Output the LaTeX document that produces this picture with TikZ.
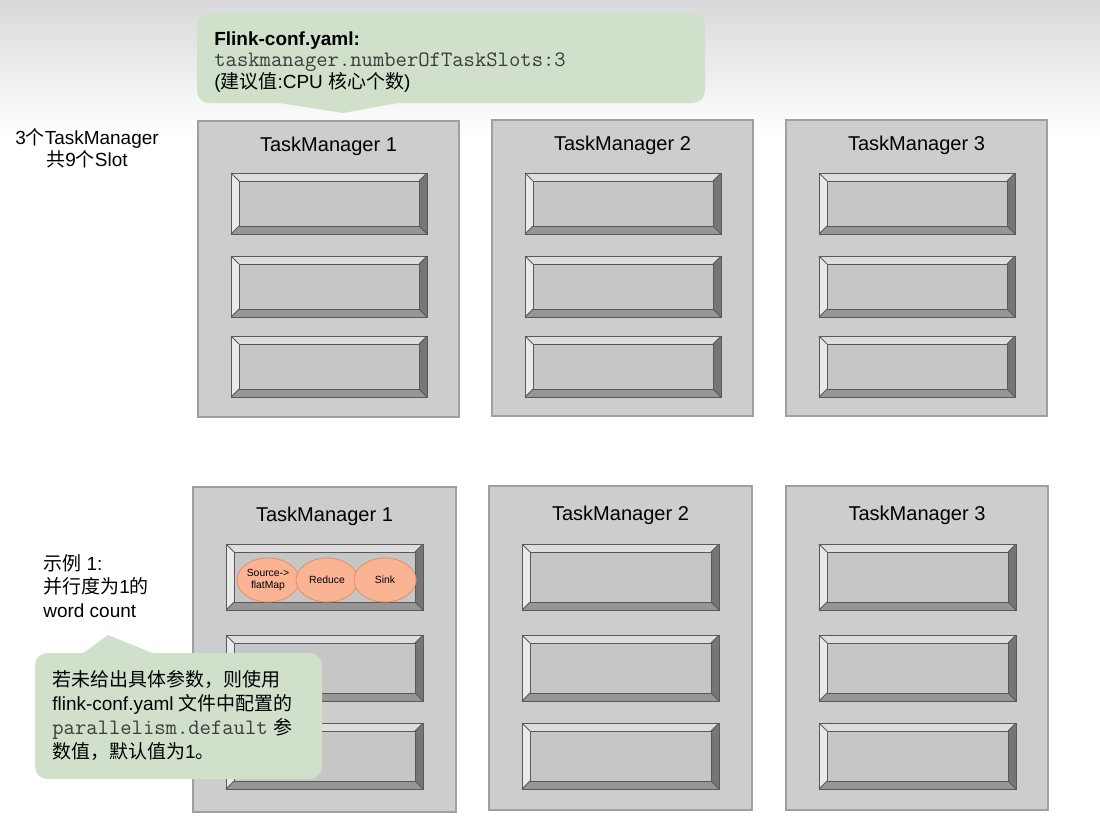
\documentclass[tikz,border=0pt]{standalone}
\usepackage{fontspec}
\setmainfont{Liberation Sans}
\setmonofont[Scale=1.16]{Latin Modern Mono}
\newfontfamily\cjk{Noto Sans CJK SC}
\usepackage{tikz}
\usetikzlibrary{shapes.geometric}

\definecolor{tmfill}{RGB}{205,205,205}
\definecolor{tmline}{RGB}{160,160,160}
\definecolor{facefill}{RGB}{198,198,198}
\definecolor{bevtopc}{RGB}{222,222,222}
\definecolor{bevleftc}{RGB}{234,234,234}
\definecolor{bevrightc}{RGB}{118,118,118}
\definecolor{bevbotc}{RGB}{150,150,150}
\definecolor{callgreen}{RGB}{208,224,203}
\definecolor{opfill}{RGB}{250,180,148}
\definecolor{opline}{RGB}{228,145,105}
\definecolor{codegray}{RGB}{60,60,60}

% one bevelled slot: x0, y0, x1, y1 (pixels)
\newcommand{\slotbox}[4]{%
	\fill[facefill] (#1,#2) rectangle (#3,#4);
	\fill[bevtopc] (#1,#2) -- (#3,#2) -- (#3-8,#2+8) -- (#1+8,#2+8) -- cycle;
	\fill[bevleftc] (#1,#2) -- (#1+8,#2+8) -- (#1+8,#4-8) -- (#1,#4) -- cycle;
	\fill[bevrightc] (#3,#2) -- (#3,#4) -- (#3-8,#4-8) -- (#3-8,#2+8) -- cycle;
	\fill[bevbotc] (#1,#4) -- (#3,#4) -- (#3-8,#4-8) -- (#1+8,#4-8) -- cycle;
	\draw[slotline] (#1,#2) rectangle (#3,#4);
	\draw[slotline] (#1+8,#2+8) rectangle (#3-8,#4-8);
	\draw[slotline] (#1,#2) -- (#1+8,#2+8) (#3,#2) -- (#3-8,#2+8)
		(#1,#4) -- (#1+8,#4-8) (#3,#4) -- (#3-8,#4-8);
}

\begin{document}
\begin{tikzpicture}[x=0.02cm,y=-0.02cm]
						\tikzstyle{every node}=[inner sep=0pt];
						\tikzstyle{tmbox}=[fill=tmfill,draw=tmline,line width=0.6pt];
						\tikzstyle{slotline}=[draw=black!65,line width=0.5pt];
						\tikzstyle{title}=[font=\fontsize{11.4}{13}\selectfont];
						\tikzstyle{note}=[font=\fontsize{10.8}{13.4}\selectfont,align=left];
						\tikzstyle{op}=[ellipse,fill=opfill,draw=opline,line width=0.5pt,minimum width=1.24cm,minimum height=0.88cm,align=center,font=\fontsize{5.9}{6.6}\selectfont];
						\useasboundingbox (0,0) rectangle (1100,822);
						\fill[white] (0,0) rectangle (1100,822);
						\shade[top color=black!15,bottom color=white] (0,0) rectangle (1100,135);
						% top callout
						\fill[callgreen,rounded corners=7pt] (197,13) rectangle (705,103);
						\fill[callgreen] (273,102) -- (403,102) -- (343,113) -- cycle;
						\path (214,31) node[anchor=north west,note,font=\fontsize{10.8}{12.3}\selectfont] (conf) {\textbf{Flink-conf.yaml:}\\\textcolor{codegray}{\texttt{taskmanager.numberOfTaskSlots:3}}\\({\cjk 建议值}:CPU {\cjk 核心个数})};
						\path (87,148) node[align=center,font=\fontsize{10.8}{12.5}\selectfont] (sum) {3{\cjk 个}TaskManager\\{\cjk 共}9{\cjk 个}Slot};
						% upper TaskManagers
						\draw[tmbox] (198,121) rectangle (459,417);
						\draw[tmbox] (492,120) rectangle (753,416);
						\draw[tmbox] (786,120) rectangle (1047,416);
						\path (328.5,146) node[title] (ta1) {TaskManager 1};
						\path (622.5,145) node[title] (ta2) {TaskManager 2};
						\path (916.5,145) node[title] (ta3) {TaskManager 3};
						\foreach \x in {231,525,819}
							\foreach \y in {173,256,336}
								\slotbox{\x}{\y}{\x+196}{\y+61};
						% lower TaskManagers
						\draw[tmbox] (193,487) rectangle (456,812);
						\draw[tmbox] (489,486) rectangle (752,810);
						\draw[tmbox] (786,486) rectangle (1048,810);
						\path (324.5,516) node[title] (tb1) {TaskManager 1};
						\path (620.5,515) node[title] (tb2) {TaskManager 2};
						\path (917,515) node[title] (tb3) {TaskManager 3};
						\foreach \x in {226,522,819}
							\foreach \y in {544,635,723}
								\slotbox{\x}{\y}{\x+197}{\y+66};
						\path (268,580) node[op] (src) {Source->\\flatMap};
						\path (327,580) node[op] (red) {Reduce};
						\path (385,580) node[op] (snk) {Sink};
						\path (43,554) node[anchor=north west,note] (ex1) {{\cjk 示例} 1:\\{\cjk 并行度为}1{\cjk 的}\\word count};
						% lower callout
						\fill[callgreen,rounded corners=7pt] (35,653) rectangle (322,779);
						\fill[callgreen] (82,654) -- (108,635) -- (155,654) -- cycle;
						\path (52,670) node[anchor=north west,note,font=\fontsize{10.8}{13.6}\selectfont] (dflt) {{\cjk 若未给出具体参数，则使用}\\flink-conf.yaml {\cjk 文件中配置的}\\\textcolor{codegray}{\texttt{parallelism.default}} {\cjk 参}\\{\cjk 数值，默认值为}1{\cjk 。}};
					\end{tikzpicture}
\end{document}
